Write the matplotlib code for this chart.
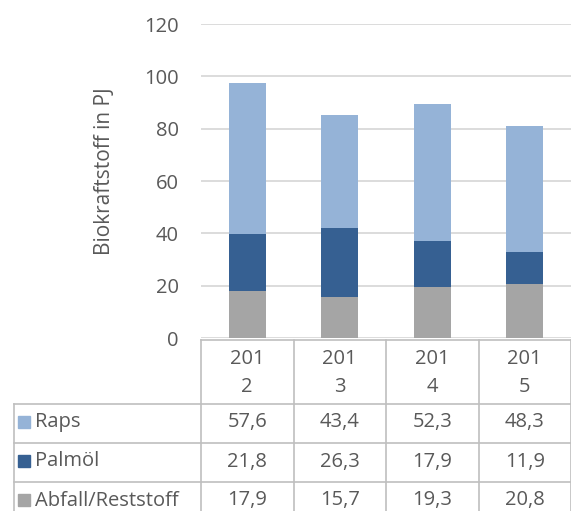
import numpy as np
import matplotlib
matplotlib.use('Agg')
import matplotlib.pyplot as plt

# data
years = ['2012', '2013', '2014', '2015']
series = ['Raps', 'Palmöl', 'Abfall/Reststoff']
raps = [57.6, 43.4, 52.3, 48.3]
palmoel = [21.8, 26.3, 17.9, 11.9]
abfall = [17.9, 15.7, 19.3, 20.8]
colors = ['#95B3D7', '#366092', '#A5A5A5']

plt.rcParams['font.family'] = ['Open Sans', 'DejaVu Sans']
txt = '#595959'
grid = '#D9D9D9'
fs = 14.5
W, H = 571, 511

fig = plt.figure(figsize=(W / 100, H / 100), dpi=100)

# layout in pixels
left, right = 201, 571
y0, y120 = 338, 24
ax = fig.add_axes([left / W, (H - y0) / H, (right - left) / W, (y0 - y120) / H])
x = np.arange(len(years))
bw = 0.4
ax.bar(x, abfall, bw, color=colors[2], zorder=3)
ax.bar(x, palmoel, bw, bottom=abfall, color=colors[1], zorder=3)
ax.bar(x, raps, bw, bottom=np.add(abfall, palmoel), color=colors[0], zorder=3)
ax.set_xlim(-0.5, len(years) - 0.5)
ax.set_ylim(0, 120)
ax.set_yticks(np.arange(0, 121, 20))
ax.yaxis.grid(True, color=grid, lw=1.3)
ax.tick_params(axis='y', length=0, pad=16, labelsize=fs, labelcolor=txt)
ax.set_xticks([])
for s in ax.spines.values():
    s.set_visible(False)
ax.set_ylabel('Biokraftstoff in PJ', fontsize=15, color=txt)
ax.yaxis.set_label_coords(-0.232, 0.53)

# data table drawn in pixel coordinates
ov = fig.add_axes([0, 0, 1, 1], zorder=-1)
ov.set_xlim(0, W)
ov.set_ylim(H, 0)
ov.axis('off')
lc = '#BFBFBF'
colw = (right - left) / len(years)
head_top, head_bot = 340, 404
row_h = 39
tleft = 14
# header
ov.plot([left, right], [head_top, head_top], color=lc, lw=1.2)
for i in range(len(years) + 1):
    xx = left + i * colw
    ov.plot([xx, xx], [head_top, H], color=lc, lw=1.2)
ov.plot([tleft, right], [head_bot, head_bot], color=lc, lw=1.2)
ov.plot([tleft, tleft], [head_bot, H], color=lc, lw=1.2)
for i, yr in enumerate(years):
    cx = left + (i + 0.5) * colw
    ov.text(cx, 359, yr[:3], ha='center', va='center', fontsize=fs, color=txt)
    ov.text(cx, 387, yr[3:], ha='center', va='center', fontsize=fs, color=txt)
rows = [raps, palmoel, abfall]
for r, (name, vals, c) in enumerate(zip(series, rows, colors)):
    top = head_bot + r * row_h
    ov.plot([tleft, right], [top + row_h, top + row_h], color=lc, lw=1.2)
    cy = top + row_h / 2 - 1
    ov.add_patch(plt.Rectangle((18, cy - 6), 12, 12, color=c))
    ov.text(35, cy, name, ha='left', va='center', fontsize=fs, color=txt)
    for i, v in enumerate(vals):
        cx = left + (i + 0.5) * colw
        ov.text(cx, cy, f'{v:.1f}'.replace('.', ','), ha='center', va='center',
                fontsize=fs, color=txt)

fig.savefig('out.png', dpi=100)
